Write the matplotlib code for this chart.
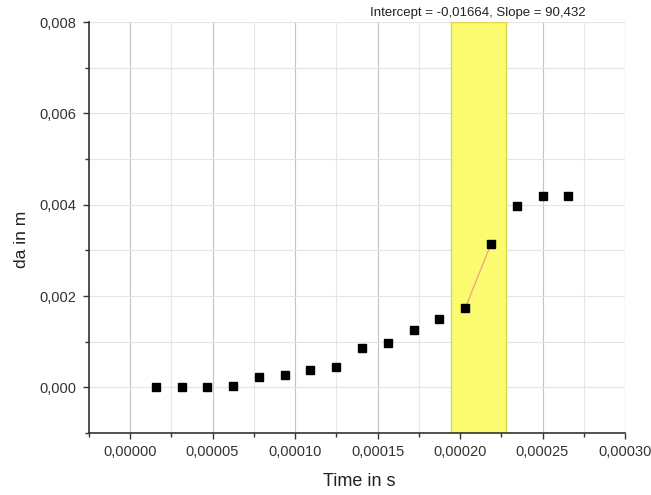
import numpy as np
import matplotlib
matplotlib.use("Agg")
import matplotlib.pyplot as plt
from matplotlib.ticker import MultipleLocator, FuncFormatter

plt.rcParams['font.family'] = ['Liberation Sans', 'DejaVu Sans']

# Data (time in s, displacement in m)
time_s = [0.000015625, 0.00003125, 0.000046875, 0.0000625, 0.000078125,
          0.00009375, 0.000109375, 0.000125, 0.000140625, 0.00015625,
          0.000171875, 0.0001875, 0.000203125, 0.00021875, 0.000234375,
          0.00025, 0.000265625]
da_m = [0.0, 0.0, 0.0, 0.00004, 0.00023,
        0.00027, 0.00039, 0.00044, 0.00086, 0.00097,
        0.00125, 0.00150, 0.00173, 0.00314, 0.00396,
        0.00419, 0.00419]

fit_range = [0.0001944, 0.0002279]
x_ticks = [0.0, 0.00005, 0.0001, 0.00015, 0.0002, 0.00025, 0.0003]
y_ticks = [0.0, 0.002, 0.004, 0.006, 0.008]

fig = plt.figure(figsize=(6.51, 4.95), dpi=100)
ax = fig.add_axes([88.75/651, 62/495, (625-88.75)/651, (433-22)/495])

ax.set_xlim(-0.000025, 0.0003)
ax.set_ylim(-0.001, 0.008)

# highlighted fit range
ax.axvspan(fit_range[0], fit_range[1], facecolor='#fbfb70', edgecolor='#d8d848',
           linewidth=1.0, zorder=1)

# grid
ax.xaxis.set_major_locator(MultipleLocator(0.00005))
ax.xaxis.set_minor_locator(MultipleLocator(0.000025))
ax.yaxis.set_major_locator(MultipleLocator(0.002))
ax.yaxis.set_minor_locator(MultipleLocator(0.001))
ax.grid(True, which='major', axis='x', color='#c4c4c4', linewidth=0.8, zorder=0)
ax.grid(True, which='minor', axis='x', color='#e6e6e6', linewidth=0.8, zorder=0)
ax.grid(True, which='both', axis='y', color='#e4e4e4', linewidth=0.8, zorder=0)
ax.set_axisbelow(True)

# data
t = np.array(time_s)
y = np.array(da_m)
ax.plot(t, y, linestyle='none', marker='s', markersize=6, color='black', zorder=4)

# linear fit in selected range
sel = (t >= fit_range[0]) & (t <= fit_range[1])
slope, intercept = np.polyfit(t[sel], y[sel], 1)
xs = np.array([t[sel].min(), t[sel].max()])
ax.plot(xs, intercept + slope * xs, color='#f0a080', linewidth=0.9, zorder=3)

ax.text(0.000211, 1.008, "Intercept = -0,01664, Slope = 90,432",
        transform=ax.get_xaxis_transform(), ha='center', va='bottom',
        fontsize=9.5, color='#222222')

# spines
for s in ['top', 'right']:
    ax.spines[s].set_visible(False)
for s in ['left', 'bottom']:
    ax.spines[s].set_color('#333333')
    ax.spines[s].set_linewidth(1.2)

ax.tick_params(which='major', direction='out', length=4, width=1.0, color='#333333',
               labelsize=10.5, labelcolor='#333333', pad=5)
ax.tick_params(which='minor', direction='out', length=3, width=1.0, color='#333333')

ax.set_xticks(x_ticks)
ax.set_yticks(y_ticks)
ax.xaxis.set_major_formatter(FuncFormatter(lambda v, p: f"{v:.5f}".replace('.', ',')))
ax.yaxis.set_major_formatter(FuncFormatter(lambda v, p: f"{v:.3f}".replace('.', ',')))

ax.set_xlabel("Time in s", fontsize=13, color='#222222')
ax.set_ylabel("da in m", fontsize=12.5, color='#222222')
ax.xaxis.set_label_coords(0.5035, -0.119)
ax.yaxis.set_label_coords(-0.1245, 0.47)
ax.xaxis.label.set_va('center')
ax.yaxis.label.set_va('center')

fig.savefig("out.png", dpi=100)
